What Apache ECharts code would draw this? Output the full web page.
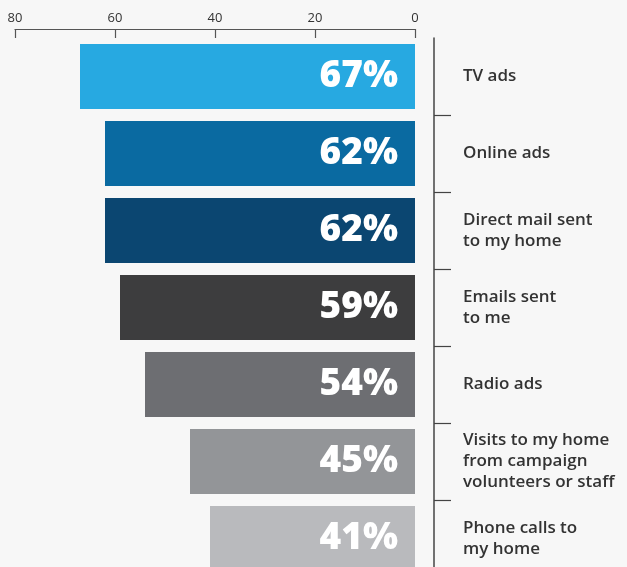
<!DOCTYPE html>
<html>
<head>
<meta charset="utf-8">
<script src="https://cdn.jsdelivr.net/npm/echarts@6/dist/echarts.min.js"></script>
<style>
  html, body { margin: 0; padding: 0; background: #f7f7f7; }
  #chart { width: 627px; height: 567px; }
</style>
</head>
<body>
<div id="chart"></div>
<script>
// Share of respondents reached through each campaign channel
const categories = [
  'TV ads',
  'Online ads',
  'Direct mail sent\nto my home',
  'Emails sent\nto me',
  'Radio ads',
  'Visits to my home\nfrom campaign\nvolunteers or staff',
  'Phone calls to\nmy home'
];
const values = [67, 62, 62, 59, 54, 45, 41];
const axisTicks = [0, 20, 40, 60, 80];

// One shade per channel
const barColors = ['#27a9e1', '#0a6aa1', '#0b4671', '#3d3d3e', '#6d6e72', '#939598', '#b9babd'];

const chart = echarts.init(document.getElementById('chart'), null, { renderer: 'canvas' });

chart.setOption({
  backgroundColor: '#f7f7f7',
  animation: false,
  grid: { left: 15, right: 212, top: 38, height: 539, outerBoundsMode: 'none', containLabel: false },
  xAxis: {
    type: 'value',
    position: 'top',
    inverse: true,
    min: axisTicks[0],
    max: axisTicks[axisTicks.length - 1],
    interval: axisTicks[1] - axisTicks[0],
    offset: 9,
    splitLine: { show: false },
    axisLine: { show: true, onZero: false, lineStyle: { color: '#555', width: 1.2 } },
    axisTick: { show: true, inside: true, length: 9, lineStyle: { color: '#555', width: 1.2 } },
    axisLabel: { color: '#333', fontSize: 13, margin: 4, fontFamily: 'Open Sans' }
  },
  yAxis: {
    type: 'category',
    data: categories,
    inverse: true,
    position: 'right',
    offset: 19,
    axisLine: { show: true, onZero: false, lineStyle: { color: '#444', width: 1.5 } },
    axisTick: {
      show: true,
      length: 17,
      interval: function (index) { return index !== 0; },
      lineStyle: { color: '#444', width: 1.2 }
    },
    axisLabel: {
      margin: 29,
      color: '#333',
      fontSize: 17,
      lineHeight: 21,
      fontWeight: 600,
      fontFamily: 'Open Sans',
      align: 'left'
    }
  },
  series: [{
    type: 'bar',
    barWidth: 65,
    data: values.map((v, i) => ({ value: v, itemStyle: { color: barColors[i] } })),
    label: {
      show: true,
      position: 'insideRight',
      distance: 17,
      formatter: '{c}%',
      color: '#fff',
      fontSize: 37,
      fontWeight: 800,
      fontFamily: 'Open Sans'
    }
  }]
});
</script>
</body>
</html>
